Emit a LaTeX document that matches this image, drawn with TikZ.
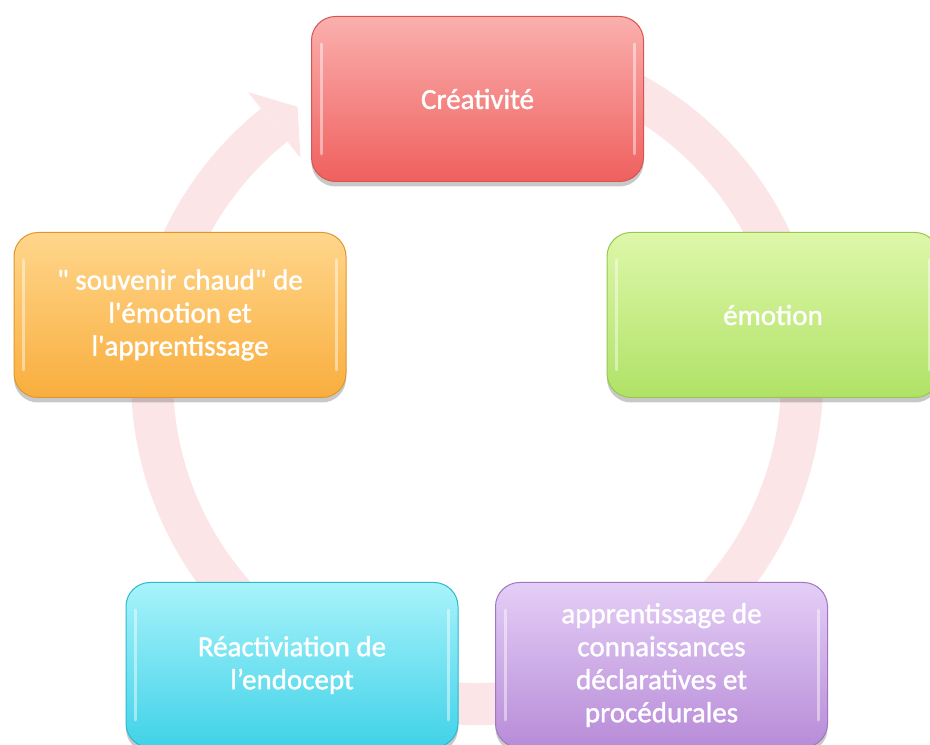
\documentclass[tikz,border=0pt]{standalone}
\usepackage{fontspec}
\newfontfamily\boxfont{Carlito}[RawFeature={embolden=1.3}]
\usetikzlibrary{shadows,calc}
\definecolor{ringc}{RGB}{251,229,231}
\definecolor{redT}{RGB}{250,176,174}
\definecolor{redB}{RGB}{239,96,94}
\definecolor{redE}{RGB}{214,84,82}
\definecolor{grnT}{RGB}{222,247,170}
\definecolor{grnB}{RGB}{176,226,102}
\definecolor{grnE}{RGB}{150,200,80}
\definecolor{orgT}{RGB}{255,214,140}
\definecolor{orgB}{RGB}{249,174,62}
\definecolor{orgE}{RGB}{225,150,45}
\definecolor{cyaT}{RGB}{168,243,251}
\definecolor{cyaB}{RGB}{64,210,232}
\definecolor{cyaE}{RGB}{45,185,205}
\definecolor{purT}{RGB}{228,206,246}
\definecolor{purB}{RGB}{184,140,216}
\definecolor{purE}{RGB}{160,118,192}
\tikzset{
  ring/.style={draw=ringc, line width=42pt},
  cyclebox/.style={rounded corners=24pt, minimum width=332pt, minimum height=165pt,
    inner sep=0pt, align=center, text=white, line width=1pt,
    font=\boxfont\fontsize{29}{33}\selectfont,
    drop shadow={shadow xshift=0pt, shadow yshift=-5pt, opacity=0.3, fill=black!70}},
  gloss/.style={draw=white, opacity=0.45, line width=3pt, line cap=round},
  redbox/.style={cyclebox, top color=redT, bottom color=redB, draw=redE},
  grnbox/.style={cyclebox, top color=grnT, bottom color=grnB, draw=grnE},
  orgbox/.style={cyclebox, top color=orgT, bottom color=orgB, draw=orgE},
  cyabox/.style={cyclebox, top color=cyaT, bottom color=cyaB, draw=cyaE},
  purbox/.style={cyclebox, top color=purT, bottom color=purB, draw=purE},
}
\begin{document}
\begin{tikzpicture}[x=1pt,y=1pt]
\useasboundingbox (0,0) rectangle (930,745);
\fill[white] (0,0) rectangle (930,745);
\coordinate (C) at (477,366);
% cycle ring (clockwise), arrowhead before Creativite
\draw[ring] (C) ++(110:325) arc[start angle=110, end angle=-231.4, radius=325];
\fill[ringc] ($(C)+(128.6:283)$) -- ($(C)+(123.4:326)$) -- ($(C)+(128.6:367)$) -- cycle;
% boxes
\node[redbox] (crea) at (477.5,646) {Créativité};
\node[grnbox] (emo) at (773,430) {émotion};
\node[purbox] (appr) at (661.5,80) {apprentissage de\\connaissances\\déclaratives et\\procédurales};
\node[cyabox] (react) at (292,80) {Réactiviation de\\l’endocept};
\node[orgbox] (souv) at (180,430) {" souvenir chaud" de\\l'émotion et\\l'apprentissage};
% glossy edge highlights
\foreach \b in {crea,emo,appr,react,souv}{
  \draw[gloss] ([xshift=10pt,yshift=-28pt]\b.north west) -- ([xshift=10pt,yshift=28pt]\b.south west);
  \draw[gloss] ([xshift=-10pt,yshift=-28pt]\b.north east) -- ([xshift=-10pt,yshift=28pt]\b.south east);
}
\end{tikzpicture}
\end{document}
